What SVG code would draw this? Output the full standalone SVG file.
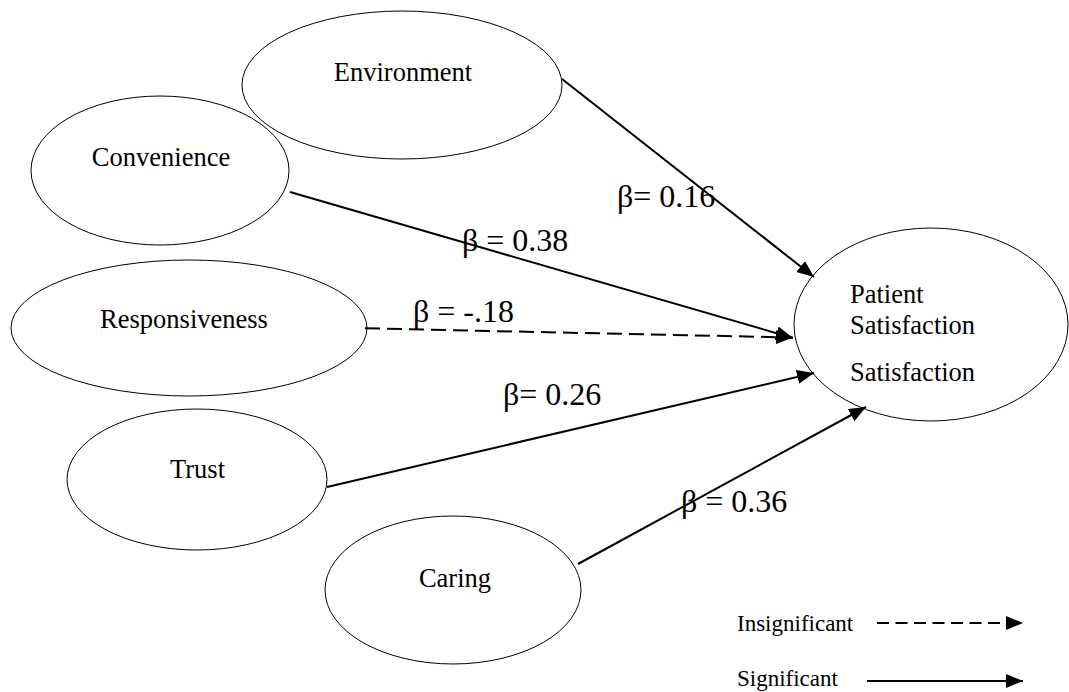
<svg xmlns="http://www.w3.org/2000/svg" width="1069" height="692" viewBox="0 0 1069 692">
  <style>
    .node { fill: #ffffff; stroke: #000000; stroke-width: 1; }
    .lbl { font-family: "Liberation Serif", "Times New Roman", serif; font-size: 26.5px; fill: #000000; }
    .mid { text-anchor: middle; }
    .beta { font-family: "Liberation Serif", "Times New Roman", serif; font-size: 32px; fill: #000000; }
    .leg { font-family: "Liberation Serif", "Times New Roman", serif; font-size: 23px; fill: #000000; }
    .edge { fill: none; stroke: #000000; stroke-width: 2; }
    .dash { stroke-dasharray: 15 7; }
    .legdash { stroke-dasharray: 12 6.5; }
  </style>
  <defs>
    <marker id="arrow" markerUnits="userSpaceOnUse" markerWidth="18" markerHeight="15" refX="17" refY="7" orient="auto">
      <path d="M0,0 L17,7 L0,14 Z" fill="#000000"/>
    </marker>
  </defs>
  <rect x="0" y="0" width="1069" height="692" fill="#ffffff"/>

  <g id="node-environment">
    <ellipse class="node" cx="402" cy="85" rx="160" ry="74"/>
    <text class="lbl mid" x="403" y="81">Environment</text>
  </g>
  <g id="node-convenience">
    <ellipse class="node" cx="160" cy="170.5" rx="129" ry="74.5"/>
    <text class="lbl mid" x="161" y="166">Convenience</text>
  </g>
  <g id="node-responsiveness">
    <ellipse class="node" cx="189" cy="328" rx="178" ry="68"/>
    <text class="lbl mid" x="184" y="328">Responsiveness</text>
  </g>
  <g id="node-trust">
    <ellipse class="node" cx="197" cy="479.5" rx="130" ry="70.5"/>
    <text class="lbl mid" x="197.5" y="478">Trust</text>
  </g>
  <g id="node-caring">
    <ellipse class="node" cx="453" cy="590" rx="128" ry="74"/>
    <text class="lbl mid" x="455" y="587">Caring</text>
  </g>
  <g id="node-patient-satisfaction">
    <ellipse class="node" cx="931" cy="324.5" rx="137" ry="96.5"/>
    <text class="lbl" x="850" y="303">Patient</text>
    <text class="lbl" x="850" y="334">Satisfaction</text>
    <text class="lbl" x="850" y="381">Satisfaction</text>
  </g>

  <g id="connectors">
    <line class="edge" x1="562" y1="79" x2="814" y2="277" marker-end="url(#arrow)"/>
    <line class="edge" x1="290" y1="192" x2="793" y2="338" marker-end="url(#arrow)"/>
    <line class="edge dash" x1="365" y1="328.3" x2="793" y2="337.5" marker-end="url(#arrow)"/>
    <line class="edge" x1="327" y1="487" x2="814" y2="373" marker-end="url(#arrow)"/>
    <line class="edge" x1="578" y1="564" x2="866" y2="407" marker-end="url(#arrow)"/>
  </g>

  <g id="edge-labels">
    <text class="beta" x="617" y="207">β= 0.16</text>
    <text class="beta" x="462" y="251">β = 0.38</text>
    <text class="beta" x="413" y="322">β = -.18</text>
    <text class="beta" x="503" y="405">β= 0.26</text>
    <text class="beta" x="681" y="512">β = 0.36</text>
  </g>

  <g id="legend">
    <text class="leg" x="737" y="631">Insignificant</text>
    <line class="edge legdash" x1="877" y1="623" x2="1023" y2="623" marker-end="url(#arrow)"/>
    <text class="leg" x="737" y="686">Significant</text>
    <line class="edge" x1="867" y1="681" x2="1023" y2="681" marker-end="url(#arrow)"/>
  </g>
</svg>
